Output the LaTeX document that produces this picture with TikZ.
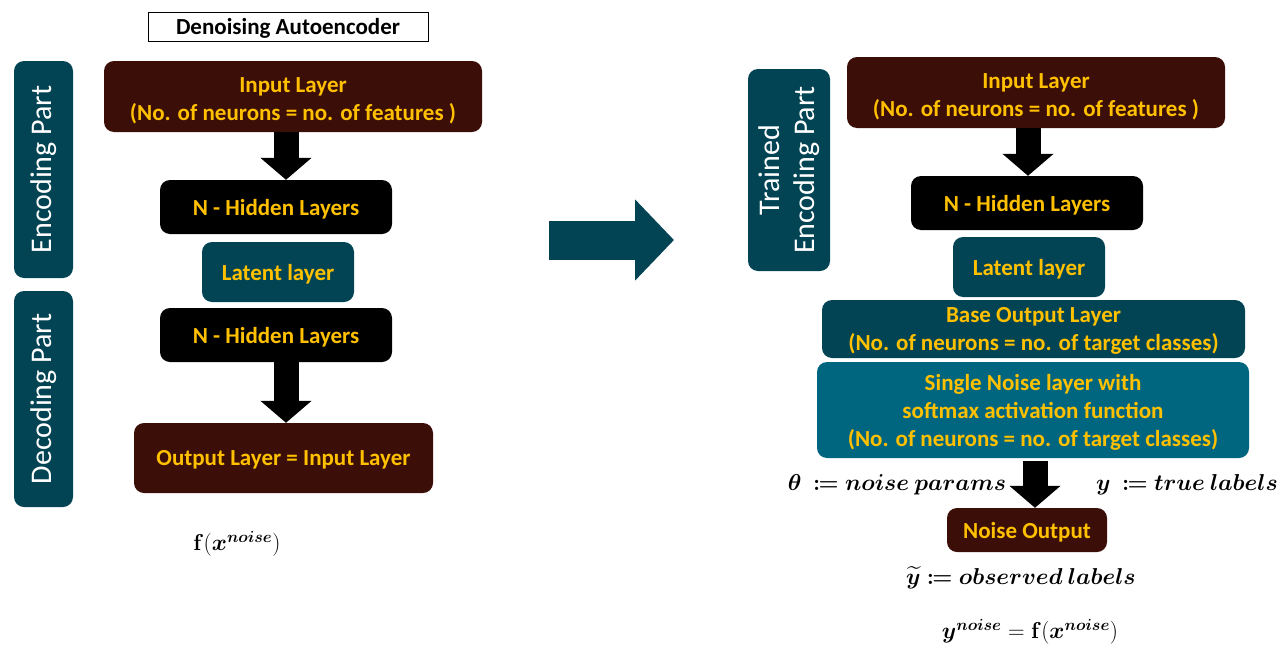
\RequirePackage{fix-cm}
\documentclass[tikz,border=0pt]{standalone}
\usepackage{mathtools}
\usepackage{bm}
\usepackage[no-math]{fontspec}
\setmainfont{Carlito}
\usetikzlibrary{arrows.meta}

\definecolor{layerbrown}{RGB}{59,14,8}
\definecolor{layerteal}{RGB}{2,68,84}
\definecolor{noiseteal}{RGB}{0,102,128}
\definecolor{labelgold}{RGB}{255,192,0}

\tikzset{
  layer/.style={rounded corners=10pt, text=labelgold, align=center, inner sep=0pt,
    text depth=0pt, font=\fontsize{23}{28}\selectfont\bfseries},
  partbox/.style={rounded corners=10pt, fill=layerteal, text=white, align=center,
    inner sep=0pt, rotate=90, font=\fontsize{30}{35}\selectfont},
  blockarrow/.style={line width=25pt, -{Triangle[length=22pt,width=50pt]}},
  mathlabel/.style={inner sep=0pt, font=\fontsize{23}{27}\selectfont},
}

\begin{document}
\begin{tikzpicture}[x=1pt, y=-1pt]
\useasboundingbox (0,0) rectangle (1285,656);

% left part: the autoencoder
\node[draw, line width=0.8pt, minimum width=280pt, minimum height=29pt, inner sep=0pt,
  text depth=0pt, font=\fontsize{23}{28}\selectfont\bfseries] (title) at (288,26.5) {Denoising Autoencoder};

\node[partbox, minimum width=217pt, minimum height=59pt] (encpart) at (43.5,169.5) {Encoding Part};
\node[partbox, minimum width=216pt, minimum height=59pt] (decpart) at (43.5,399) {Decoding Part};

\node[layer, fill=layerbrown, minimum width=378pt, minimum height=71pt] (inL) at (293,96.5)
  {\rule{0pt}{19pt}Input Layer\\(No. of neurons = no. of features )};
\node[layer, fill=black, minimum width=232pt, minimum height=54pt] (hidA) at (276,207) {N - Hidden Layers};
\node[layer, fill=layerteal, minimum width=152pt, minimum height=60pt] (latA) at (278,272) {Latent layer};
\node[layer, fill=black, minimum width=232pt, minimum height=54pt] (hidB) at (276,335) {N - Hidden Layers};
\node[layer, fill=layerbrown, minimum width=299pt, minimum height=70pt] (outL) at (283.5,458) {Output Layer = Input Layer};

\node[mathlabel] (fx) at (237,544) {$\mathbf{f}(\bm{x}^{\bm{noise}})$};

\draw[blockarrow] ([xshift=-7pt]inL.south) -- ([xshift=10pt]hidA.north);
\draw[blockarrow] ([xshift=10pt]hidB.south) -- ([xshift=2.5pt]outL.north);

% from left to right
\coordinate (gapL) at (549,240);
\coordinate (gapR) at (674,240);
\draw[layerteal, line width=39pt, -{Triangle[length=39pt,width=79pt]}] (gapL) -- (gapR);

% right part: the classifier with noise layer
\node[partbox, minimum width=202pt, minimum height=82pt] (trained) at (789,170) {Trained\\Encoding Part};

\node[layer, fill=layerbrown, minimum width=378pt, minimum height=71pt] (inR) at (1036,92.5)
  {\rule{0pt}{19pt}Input Layer\\(No. of neurons = no. of features )};
\node[layer, fill=black, minimum width=232pt, minimum height=54pt] (hidC) at (1027,203) {N - Hidden Layers};
\node[layer, fill=layerteal, minimum width=152pt, minimum height=60pt] (latC) at (1029,267) {Latent layer};
\node[layer, fill=layerteal, minimum width=423pt, minimum height=58pt] (baseout) at (1033.5,329)
  {Base Output Layer\\(No. of neurons = no. of target classes)};
\node[layer, fill=noiseteal, minimum width=432pt, minimum height=96pt] (noisel) at (1033,410)
  {Single Noise layer with\\softmax activation function\\(No. of neurons = no. of target classes)};
\node[layer, fill=layerbrown, minimum width=160pt, minimum height=44pt] (noiseout) at (1027,530) {Noise Output};

\draw[blockarrow] ([xshift=-8pt]inR.south) -- ([xshift=1pt]hidC.north);
\draw[blockarrow, shorten <=3pt] ([xshift=2pt]noisel.south) -- ([xshift=8pt]noiseout.north);

\node[mathlabel] (theta) at (897,485) {$\bm{\theta}\ \bm{\coloneqq} \bm{noise\ params}$};
\node[mathlabel] (ytrue) at (1187,485) {$\bm{y}\ \bm{\coloneqq} \bm{true\ labels}$};
\node[mathlabel] (yobs) at (1021,578) {$\bm{\widetilde{y}} \bm{\coloneqq} \bm{observed\ labels}$};
\node[mathlabel] (ynoise) at (1030,632) {$\bm{y}^{\bm{noise}} = \mathbf{f}(\bm{x}^{\bm{noise}})$};
\end{tikzpicture}
\end{document}
